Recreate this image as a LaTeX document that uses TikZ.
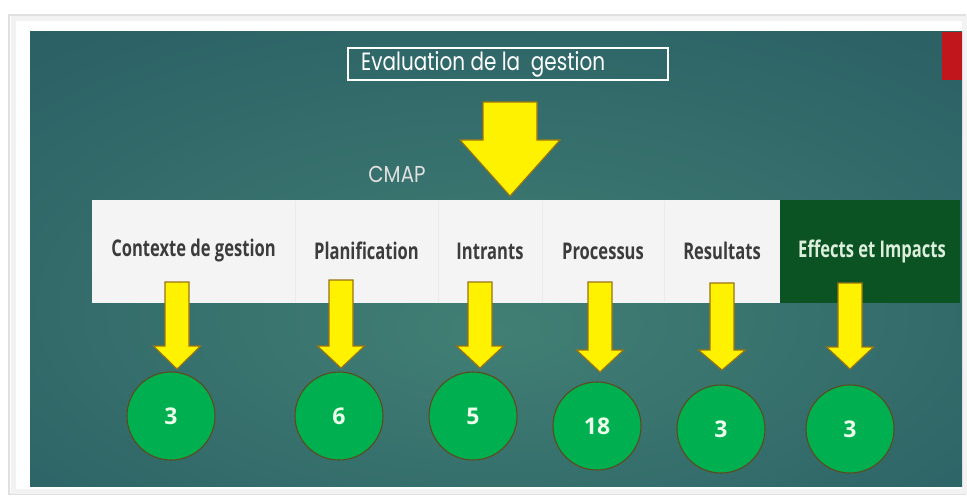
\documentclass[tikz,border=0pt]{standalone}
\usepackage{fontspec}
\setmainfont{Open Sans}
\newfontfamily\condfont[FakeStretch=0.72]{Open Sans}
\newfontfamily\gothfont[FakeStretch=0.86]{Poppins}
\newfontfamily\titlefont[FakeStretch=0.80]{Poppins}
\usetikzlibrary{calc}
\definecolor{tealin}{HTML}{417F74}
\definecolor{tealmid}{HTML}{2F6668}
\definecolor{tealout}{HTML}{1D4854}
\definecolor{stripwhite}{HTML}{F4F4F4}
\definecolor{darkgreen}{HTML}{0B5323}
\definecolor{circgreen}{HTML}{00B050}
\definecolor{circedge}{HTML}{5C4A1C}
\definecolor{arredge}{HTML}{9A7414}
\definecolor{labgray}{HTML}{3C3C3C}
\definecolor{efftext}{HTML}{DCEEDC}
\definecolor{slidered}{HTML}{C0161C}
\pgfdeclareradialshading{slidebg}{\pgfpoint{0bp}{-8bp}}{color(0bp)=(tealin); color(30bp)=(tealmid); color(72bp)=(tealout)}
\tikzset{
  cell/.style={font=\condfont\bfseries\fontsize{23}{26}\selectfont, text=labgray, anchor=center},
  numcircle/.style={circle, minimum size=88pt, inner sep=0pt, fill=circgreen, draw=circedge, line width=1.1pt, text=white!92!green, font=\bfseries\fontsize{23}{25}\selectfont},
  yarrow/.style={fill=yellow, draw=arredge, line width=1.1pt, line join=miter},
  divider/.style={draw=black!8, line width=0.8pt}
}
\begin{document}
\begin{tikzpicture}[x=1pt,y=-1pt]
\useasboundingbox (0,0) rectangle (967,500);
\fill[white] (0,0) rectangle (967,500);
% outer frame
\draw[black!12, line width=2.5pt] (9,15) rectangle (965,494);
\draw[black!5, line width=5pt] (13,19) rectangle (964,491);
% slide
\shade[shading=slidebg] (30,32) rectangle (962,486);
\fill[slidered] (942,32) rectangle (962,80);
% title
\node[draw=white, line width=1.6pt, minimum width=320pt, minimum height=32pt, inner sep=0pt, text=white] (title) at (508,64) {};
\node[anchor=west, inner sep=0pt, text=white, font=\titlefont\fontsize{25}{27}\selectfont] (titletext) at (361,64) {Evaluation de la\ \ gestion};
% big arrow
\coordinate (bigtop) at (510,102);
\coordinate (bigtip) at (510,196);
\draw[yarrow] ($(bigtop)+(-27,0)$) -- ($(bigtop)+(27,0)$) -- (537,140) -- (560,140) -- (bigtip) -- (460,140) -- (483,140) -- cycle;
\node[text=black!12, font=\gothfont\fontsize{23}{25}\selectfont] (cmap) at (397,174) {CMAP};
% strip
\fill[stripwhite] (92,200) rectangle (780,303);
\fill[darkgreen] (780,200) rectangle (960,303);
\foreach \x in {295,438,542,664} \draw[divider] (\x,201) -- (\x,302);
\node[cell] (c1) at (193.5,251) {Contexte de gestion};
\node[cell] (c2) at (366.5,251) {Planification};
\node[cell] (c3) at (490,251) {Intrants};
\node[cell] (c4) at (603,251) {Processus};
\node[cell] (c5) at (722,251) {Resultats};
\node[cell, text=efftext] (c6) at (872,251) {Effects et Impacts};
% circles
\node[numcircle] (n1) at (171,416) {3};
\node[numcircle] (n2) at (339,416) {6};
\node[numcircle] (n3) at (473,416) {5};
\node[numcircle] (n4) at (597,426) {18};
\node[numcircle] (n5) at (721,429) {3};
\node[numcircle] (n6) at (850,429) {3};
% small arrows: x, top, head y, tip y
\foreach \cx/\ty/\hy/\py in {177/282/346/369, 341/280/346/368, 480/282/346/368, 600/282/350/372, 722/283/350/370, 850/283/347/369}{
  \draw[yarrow] (\cx-12,\ty) -- (\cx+12,\ty) -- (\cx+12,\hy) -- (\cx+23.5,\hy) -- (\cx,\py) -- (\cx-23.5,\hy) -- (\cx-12,\hy) -- cycle;
}
\end{tikzpicture}
\end{document}
